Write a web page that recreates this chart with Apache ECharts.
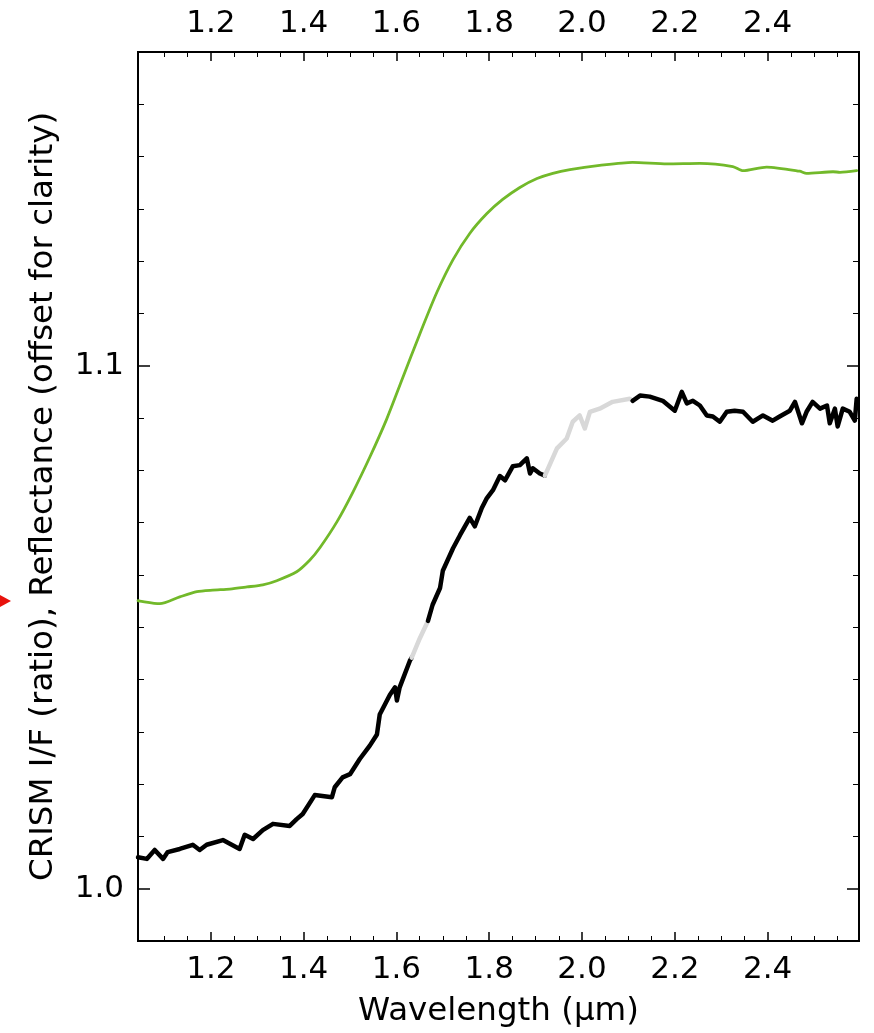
<!DOCTYPE html>
<html>
<head>
<meta charset="utf-8">
<script src="https://cdn.jsdelivr.net/npm/echarts@6/dist/echarts.min.js"></script>
<style>
  html, body { margin: 0; padding: 0; background: #fff; }
  #chart { width: 874px; height: 1033px; }
</style>
</head>
<body>
<div id="chart"></div>
<script>
// Axis extents and ticks
const X_MIN = 1.043, X_MAX = 2.597;
const Y_MIN = 0.99, Y_MAX = 1.16;
const xMajorTicks = [1.2, 1.4, 1.6, 1.8, 2.0, 2.2, 2.4];
const xMinorTicks = [1.10, 1.15, 1.25, 1.30, 1.35, 1.45, 1.50, 1.55, 1.65, 1.70, 1.75,
  1.85, 1.90, 1.95, 2.05, 2.10, 2.15, 2.25, 2.30, 2.35, 2.45, 2.50, 2.55];
const yMajorTicks = [1.0, 1.1];
const yMinorTicks = [0.99, 1.01, 1.02, 1.03, 1.04, 1.05, 1.06, 1.07, 1.08, 1.09,
  1.11, 1.12, 1.13, 1.14, 1.15, 1.16];

// Green reflectance spectrum (offset)
const greenWl = [1.043, 1.047, 1.090, 1.133, 1.170, 1.204, 1.241, 1.278, 1.312, 1.342, 1.385, 1.413,
  1.435, 1.472, 1.506, 1.543, 1.579, 1.614, 1.650, 1.687, 1.722, 1.758, 1.795, 1.829, 1.866,
  1.903, 1.937, 1.974, 2.038, 2.109, 2.183, 2.254, 2.325, 2.347, 2.398, 2.469, 2.484, 2.541,
  2.556, 2.592];
const greenRefl = [1.0551, 1.0550, 1.0545, 1.0558, 1.0568, 1.0571, 1.0573, 1.0577, 1.0581, 1.0589, 1.0606,
  1.0628, 1.0652, 1.0702, 1.0758, 1.0826, 1.0898, 1.0978, 1.1060, 1.1140, 1.1203, 1.1253,
  1.1291, 1.1318, 1.1341, 1.1358, 1.1368, 1.1375, 1.1383, 1.1389, 1.1386, 1.1387, 1.1381,
  1.1373, 1.1380, 1.1372, 1.1368, 1.1371, 1.1370, 1.1373];

// CRISM I/F ratio, segment 1 (black)
const black1Wl = [1.043, 1.047, 1.062, 1.079, 1.097, 1.107, 1.133, 1.161, 1.176, 1.191, 1.226, 1.241,
  1.262, 1.273, 1.291, 1.312, 1.334, 1.370, 1.385, 1.398, 1.424, 1.461, 1.467, 1.484, 1.500,
  1.521, 1.543, 1.558, 1.564, 1.586, 1.597, 1.601, 1.607, 1.629, 1.633];
const black1Ratio = [1.0060, 1.0061, 1.0057, 1.0074, 1.0057, 1.0070, 1.0076, 1.0084, 1.0074, 1.0084,
  1.0093, 1.0086, 1.0076, 1.0103, 1.0095, 1.0112, 1.0124, 1.0120, 1.0133, 1.0143, 1.0179,
  1.0175, 1.0194, 1.0213, 1.0219, 1.0248, 1.0274, 1.0295, 1.0333, 1.0371, 1.0385, 1.0360,
  1.0385, 1.0436, 1.0442];
// segment 2 (grey, masked)
const grey1Wl = [1.633, 1.650, 1.668];
const grey1Ratio = [1.0442, 1.0478, 1.0512];
// segment 3 (black)
const black2Wl = [1.668, 1.678, 1.694, 1.700, 1.722, 1.737, 1.758, 1.769, 1.784, 1.795, 1.808, 1.823,
  1.834, 1.851, 1.866, 1.881, 1.888, 1.894, 1.909, 1.920];
const black2Ratio = [1.0512, 1.0543, 1.0575, 1.0608, 1.0651, 1.0676, 1.0709, 1.0693, 1.0728, 1.0747,
  1.0762, 1.0789, 1.0781, 1.0808, 1.0810, 1.0823, 1.0794, 1.0804, 1.0794, 1.0790];
// segment 4 (grey, masked)
const grey2Wl = [1.920, 1.946, 1.967, 1.980, 1.995, 2.006, 2.017, 2.038, 2.066, 2.103, 2.109];
const grey2Ratio = [1.0790, 1.0842, 1.0861, 1.0893, 1.0905, 1.0880, 1.0912, 1.0918, 1.0931, 1.0937, 1.0933];
// segment 5 (black)
const black3Wl = [2.109, 2.125, 2.146, 2.174, 2.200, 2.215, 2.226, 2.239, 2.254, 2.269, 2.282, 2.297,
  2.312, 2.329, 2.347, 2.368, 2.390, 2.411, 2.426, 2.448, 2.459, 2.474, 2.484, 2.497, 2.513,
  2.528, 2.534, 2.545, 2.551, 2.562, 2.577, 2.588, 2.592];
const black3Ratio = [1.0933, 1.0943, 1.0941, 1.0933, 1.0914, 1.0950, 1.0928, 1.0933, 1.0924, 1.0905,
  1.0903, 1.0893, 1.0912, 1.0914, 1.0912, 1.0893, 1.0905, 1.0895, 1.0903, 1.0914, 1.0931,
  1.0890, 1.0912, 1.0931, 1.0918, 1.0924, 1.0890, 1.0918, 1.0884, 1.0918, 1.0912, 1.0895, 1.0937];

const zip = (a, b) => a.map((v, i) => [v, b[i]]);
const FONT = "'DejaVu Sans', sans-serif";
const fmt1 = v => Number(v).toFixed(1);

function xAxisDef(pos, ticks, len, width, labels, extra) {
  return Object.assign({
    type: 'value', position: pos, min: X_MIN, max: X_MAX, gridIndex: 0,
    axisLine: { show: true, lineStyle: { color: '#000', width: 2 } },
    axisTick: { show: true, inside: true, length: len, customValues: ticks, lineStyle: { color: '#000', width: width } },
    axisLabel: labels
      ? { show: true, customValues: ticks, formatter: fmt1, fontSize: 31, color: '#000', fontFamily: FONT, margin: 13 }
      : { show: false },
    splitLine: { show: false }
  }, extra || {});
}
function yAxisDef(pos, ticks, len, width, labels, extra) {
  return Object.assign({
    type: 'value', position: pos, min: Y_MIN, max: Y_MAX, gridIndex: 0,
    axisLine: { show: true, lineStyle: { color: '#000', width: 2 } },
    axisTick: { show: true, inside: true, length: len, customValues: ticks, lineStyle: { color: '#000', width: width } },
    axisLabel: labels
      ? { show: true, customValues: ticks, formatter: fmt1, fontSize: 31, color: '#000', fontFamily: FONT, margin: 14 }
      : { show: false },
    splitLine: { show: false }
  }, extra || {});
}

const lineSeries = (name, data, color, width, smooth) => ({
  name, type: 'line', data, xAxisIndex: 0, yAxisIndex: 0,
  showSymbol: false, symbol: 'none', smooth: smooth || false,
  lineStyle: { color, width, cap: 'round', join: 'round' },
  animation: false, silent: true
});

const chart = echarts.init(document.getElementById('chart'), null, { renderer: 'canvas' });
chart.setOption({
  backgroundColor: '#ffffff',
  animation: false,
  grid: { left: 138, right: 15, top: 52, bottom: 88, containLabel: false },
  xAxis: [
    xAxisDef('bottom', xMajorTicks, 9, 1.5, true, {
      name: 'Wavelength (µm)', nameLocation: 'middle', nameGap: 54,
      nameTextStyle: { fontSize: 32.5, color: '#000', fontFamily: FONT }
    }),
    xAxisDef('bottom', xMinorTicks, 5, 1, false),
    xAxisDef('top', xMajorTicks, 9, 1.5, true),
    xAxisDef('top', xMinorTicks, 5, 1, false)
  ],
  yAxis: [
    yAxisDef('left', yMajorTicks, 12, 1.5, true, {
      name: 'CRISM I/F (ratio), Reflectance (offset for clarity)', nameLocation: 'middle', nameGap: 78,
      nameTextStyle: { fontSize: 32.5, color: '#000', fontFamily: FONT }
    }),
    yAxisDef('left', yMinorTicks, 6, 1, false),
    yAxisDef('right', yMajorTicks, 12, 1.5, false),
    yAxisDef('right', yMinorTicks, 6, 1, false)
  ],
  series: [
    lineSeries('Reflectance', zip(greenWl, greenRefl), '#72b92a', 2.8, 0.25),
    lineSeries('Ratio 1', zip(black1Wl, black1Ratio), '#000000', 4.5),
    lineSeries('Ratio 2', zip(grey1Wl, grey1Ratio), '#d8d8d8', 4.5),
    lineSeries('Ratio 3', zip(black2Wl, black2Ratio), '#000000', 4.5),
    lineSeries('Ratio 4', zip(grey2Wl, grey2Ratio), '#d8d8d8', 4.5),
    lineSeries('Ratio 5', zip(black3Wl, black3Ratio), '#000000', 4.5)
  ],
  graphic: [
    { type: 'polygon', left: 0, top: 595, shape: { points: [[0, 0], [11, 6], [0, 12]] }, style: { fill: '#e8120c' } }
  ]
});
</script>
</body>
</html>
